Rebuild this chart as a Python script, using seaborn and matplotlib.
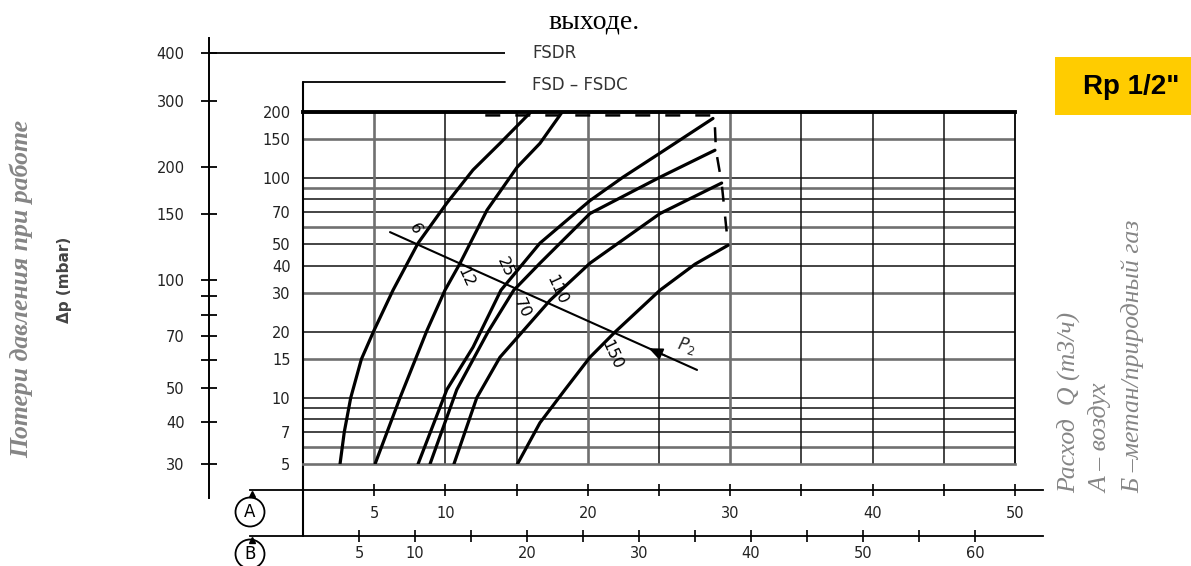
import numpy as np
import pandas as pd
import matplotlib
matplotlib.use("Agg")
import matplotlib.pyplot as plt
import seaborn as sns
from matplotlib.patches import Circle, Rectangle
from matplotlib.lines import Line2D
from matplotlib.ticker import NullLocator

# ------------------------------------------------------------------ data
curve_labels = ["6", "12", "25", "70", "110", "150"]
q_6 = [2.6, 2.9, 3.35, 4.1, 4.99, 6.32, 8.08, 10.1, 11.94, 13.83, 16.0]
dp_6 = [5, 7, 10, 15, 20.3, 30.9, 50.6, 77, 109, 144, 200]
q_12 = [5.06, 6.81, 8.71, 9.97, 11.03, 12.92, 15.03, 16.64, 18.2]
dp_12 = [5, 10, 20.3, 30.9, 41, 71.5, 112, 144, 200]
q_25 = [8.08, 10.1, 11.94, 13.9, 16.64, 20.15, 22.47, 25.07, 28.79]
dp_25 = [5, 10.9, 17, 30.9, 50.6, 79, 101, 130, 187]
q_70 = [8.92, 10.8, 13.0, 14.8, 16.64, 20.15, 25.07, 28.93]
dp_70 = [5, 10.9, 20, 30.9, 41, 69, 101, 134]
q_110 = [10.6, 12.2, 13.83, 17.35, 20.15, 25.07, 29.4]
dp_110 = [5, 10, 15.3, 27.8, 41, 69, 95]
q_150 = [15.06, 16.64, 18.4, 20.15, 21.9, 25.07, 27.53, 29.85]
dp_150 = [5, 7.7, 10.9, 15.3, 19.9, 30.9, 40.6, 49.5]

limit_q = [12.8, 28.8, 28.9, 29.0, 29.4, 29.85]
limit_dp = [193, 193, 187, 134, 95, 49.5]

p2_q = [6.11, 27.67]
p2_dp = [56.8, 13.4]

dp_ticks = [5, 7, 10, 15, 20, 30, 40, 50, 70, 100, 150, 200]
hgrid_dark = [7, 8, 9, 10, 20, 40, 50, 70, 80, 100]
hgrid_gray = [6, 15, 30, 60, 90, 150]
vgrid_dark = [10, 15, 25, 35, 40, 45]
vgrid_gray = [5, 20, 30]

inlet_ticks = [30, 40, 50, 70, 100, 150, 200, 300, 400]
inlet_minor = [60, 80, 90]

a_ticks = [5, 10, 15, 20, 25, 30, 35, 40, 45, 50]
a_labels = ["5", "10", "", "20", "", "30", "", "40", "", "50"]
b_ticks = [5, 10, 15, 20, 25, 30, 35, 40, 45, 50, 55, 60]
b_labels = ["5", "10", "", "20", "", "30", "", "40", "", "50", "", "60"]

# ------------------------------------------------------------------ setup
sns.set_theme(style="white")
plt.rcParams["font.family"] = ["DejaVu Sans"]

W, H = 1191, 566
fig = plt.figure(figsize=(W / 100, H / 100), dpi=100, facecolor="white")


def fx(px):
    return px / W


def fy(py):
    return 1 - py / H


DARK = "#111111"
MID = "#707070"

# ------------------------------------------------------------------ main grid axes
ax = fig.add_axes([fx(303), fy(464), fx(1015) - fx(303), fy(112) - fy(464)])
ax.set_facecolor("none")
ax.set_yscale("log")
ax.set_xlim(0, 50)
ax.set_ylim(5, 200)

for v in hgrid_dark:
    ax.axhline(v, color=DARK, lw=1.1, zorder=1)
for v in hgrid_gray:
    ax.axhline(v, color=MID, lw=1.9, zorder=1)
for v in vgrid_dark:
    ax.axvline(v, color=DARK, lw=1.1, zorder=1)
for v in vgrid_gray:
    ax.axvline(v, color=MID, lw=1.9, zorder=1)

ax.spines["top"].set_linewidth(2.8)
ax.spines["top"].set_color("black")
ax.spines["right"].set_linewidth(1.3)
ax.spines["right"].set_color("black")
ax.spines["bottom"].set_linewidth(1.9)
ax.spines["bottom"].set_color(MID)
ax.spines["left"].set_visible(False)

# curves
frames = []
for lab, q, d in zip(curve_labels,
                     [q_6, q_12, q_25, q_70, q_110, q_150],
                     [dp_6, dp_12, dp_25, dp_70, dp_110, dp_150]):
    frames.append(pd.DataFrame({"Q": q, "dp": d, "p2": lab}))
df = pd.concat(frames, ignore_index=True)
sns.lineplot(data=df, x="Q", y="dp", hue="p2", hue_order=curve_labels,
             palette=["black"] * len(curve_labels), estimator=None, sort=False,
             legend=False, lw=2.3, ax=ax, zorder=3)

# dashed limit
ax.plot(limit_q, limit_dp, color="black", lw=1.8, linestyle=(0, (6, 6)), zorder=3)

# P2 diagonal scale line
sns.lineplot(x=p2_q, y=p2_dp, color="black", lw=1.5, ax=ax, zorder=3)


def on_p2(a):
    l0, l1 = np.log10(p2_dp[0]), np.log10(p2_dp[1])
    t = (a - p2_q[0]) / (p2_q[1] - p2_q[0])
    return 10 ** (l0 + t * (l1 - l0))


ax.annotate("", xy=(24.1, on_p2(24.1)), xytext=(25.6, on_p2(25.6)),
            arrowprops=dict(arrowstyle="-|>,head_length=0.7,head_width=0.3",
                            color="black", lw=1.2), zorder=4)
ax.text(26.9, 17.2, r"$P_2$", fontsize=12, rotation=-15, ha="center", va="center")

label_pos = [(7.9, 59), (11.4, 35.4), (14.2, 39.3), (15.4, 25.6), (17.8, 31), (21.7, 15.7)]
for lab, (qx, dy) in zip(curve_labels, label_pos):
    ax.text(qx, dy, lab, fontsize=11.5, rotation=-65, ha="center", va="center",
            color="black", fontweight="medium", zorder=5)

ax.set_yticks(dp_ticks)
ax.set_yticklabels([str(v) for v in dp_ticks])
ax.yaxis.set_minor_locator(NullLocator())
ax.tick_params(axis="y", length=0, pad=9, labelsize=10.5, labelcolor="#222222")
ax.tick_params(axis="x", length=0, labelbottom=False)
ax.set_xlabel("")
ax.set_ylabel("")

# extended left border + FSD-FSDC line
top_frac = (464 - 82) / 352
bot_frac = (464 - 536) / 352
ax.plot([0, 0], [bot_frac, top_frac], transform=ax.transAxes, color="black",
        lw=1.5, clip_on=False)
ax.plot([0, (505 - 303) / 712], [top_frac, top_frac], transform=ax.transAxes,
        color="black", lw=1.3, clip_on=False)

# ------------------------------------------------------------------ outer inlet-pressure axis
axo = fig.add_axes([fx(209), fy(498), fx(505) - fx(209), fy(38) - fy(498)])
axo.set_facecolor("none")
axo.set_zorder(0)
axo.set_yscale("function", functions=(lambda v: np.log10(np.maximum(v + 5, 1e-9)),
                                      lambda t: 10 ** t - 5))
axo.set_ylim(23.6, 437.6)
axo.set_xlim(0, 1)
for s in ["top", "right", "bottom"]:
    axo.spines[s].set_visible(False)
axo.spines["left"].set_color("black")
axo.spines["left"].set_linewidth(1.4)
axo.set_yticks(inlet_ticks)
axo.set_yticklabels([str(v) for v in inlet_ticks])
axo.set_yticks(inlet_minor, minor=True)
axo.tick_params(axis="y", which="both", direction="inout", length=11, width=1.3,
                color="black", left=True, labelsize=10.5, labelcolor="#222222", pad=12)
axo.tick_params(axis="x", length=0, labelbottom=False)
axo.plot([0, 1], [400, 400], color="black", lw=1.3)

fig.text(fx(532), fy(53), "FSDR", ha="left", va="center", fontsize=12, color="#333333")
fig.text(fx(532), fy(85), "FSD – FSDC", ha="left", va="center", fontsize=12, color="#333333")


# ------------------------------------------------------------------ flow axes A and B
def flow_axis(y_px, units_per_px, ticks, labels, pad):
    a = fig.add_axes([fx(250), fy(y_px), fx(1043) - fx(250), 0.0005])
    a.set_facecolor("none")
    for s in ["top", "right", "left"]:
        a.spines[s].set_visible(False)
    a.spines["bottom"].set_color("black")
    a.spines["bottom"].set_linewidth(1.3)
    a.set_xlim(-53 * units_per_px, 740 * units_per_px)
    a.set_yticks([])
    a.set_xticks(ticks)
    a.set_xticklabels(labels)
    a.tick_params(axis="x", direction="inout", length=9, width=1.2, color="black",
                  bottom=True, labelsize=10.5, labelcolor="#222222", pad=pad)
    return a


flow_axis(490, 1 / 14.24, a_ticks, a_labels, 7)
flow_axis(536, 1 / 11.2, b_ticks, b_labels, 3)

for cy, letter, top in [(512, "A", 492), (554, "B", 538)]:
    fig.add_artist(Circle((2.50, (H - cy) / 100), 0.145, transform=fig.dpi_scale_trans,
                          fill=False, lw=1.3, ec="black"))
    fig.text(fx(250), fy(cy), letter, ha="center", va="center", fontsize=12, color="black")
    fig.add_artist(Line2D([fx(252)], [fy(top + 2)], marker="^", ms=4, color="black",
                          transform=fig.transFigure))

# ------------------------------------------------------------------ texts
fig.text(fx(594), fy(22), "выходе.", ha="center", va="center", fontsize=20,
         fontfamily="Liberation Serif", color="black")

fig.add_artist(Rectangle((fx(1055), fy(115)), fx(1191) - fx(1055), fy(57) - fy(115),
                         transform=fig.transFigure, color="#FFCC00", lw=0))
fig.text(fx(1083), fy(87), 'Rp 1/2"', ha="left", va="center", fontsize=20,
         fontweight="bold", fontfamily="Liberation Sans", color="black")

GRAY = "#858585"
fig.text(fx(21), fy(289), "Потери давления при работе", rotation=90, ha="center",
         va="center", fontsize=18.5, fontfamily="Liberation Serif", style="italic",
         fontweight="bold", color=GRAY)
fig.text(fx(65), fy(280), "Δp (mbar)", rotation=90, ha="center", va="center",
         fontsize=11, fontweight="bold", color="#444444")

for xp, txt in [(1068, "Расход  Q (m3/ч)"), (1101, "А – воздух"),
                (1133, "Б –метан/природный газ")]:
    fig.text(fx(xp), fy(493), txt, rotation=90, ha="center", va="bottom",
             fontsize=18.5, fontfamily="Liberation Serif", style="italic", color=GRAY)

fig.savefig("out.png", dpi=100, facecolor="white")
